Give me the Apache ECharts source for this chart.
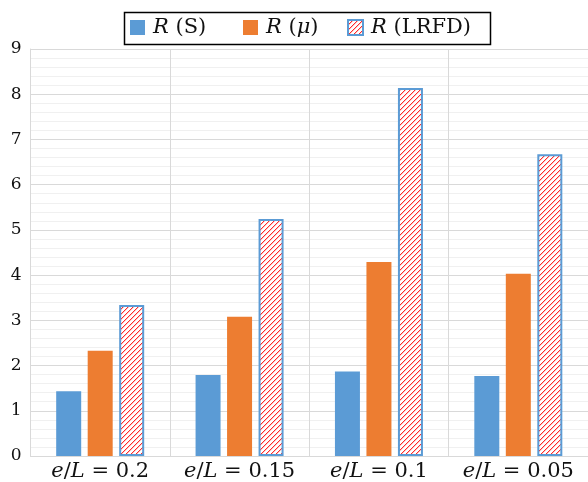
<!DOCTYPE html>
<html><head><meta charset="utf-8">
<script src="https://cdn.jsdelivr.net/npm/echarts@6/dist/echarts.min.js"></script>
<style>html,body{margin:0;padding:0;background:#fff}#c{width:588px;height:482px}</style>
</head><body><div id="c"></div>
<script>
const categories = ['e/L = 0.2', 'e/L = 0.15', 'e/L = 0.1', 'e/L = 0.05'];
const seriesNames = ['R (S)', 'R (μ)', 'R (LRFD)'];
const valuesS = [1.43, 1.79, 1.87, 1.77];
const valuesMu = [2.33, 3.08, 4.29, 4.03];
const valuesLRFD = [3.34, 5.24, 8.14, 6.67];
const yTicks = [0, 1, 2, 3, 4, 5, 6, 7, 8, 9];

const FONT = 'DejaVu Serif';
function makePattern() {
  const n = 5;
  const c = document.createElement('canvas');
  c.width = n; c.height = n;
  const ctx = c.getContext('2d');
  ctx.fillStyle = '#ffffff'; ctx.fillRect(0, 0, n, n);
  for (let i = 0; i < n; i++) {
    ctx.fillStyle = '#ff2a2a'; ctx.fillRect(i, n - 1 - i, 1, 1);
    ctx.fillStyle = '#ffc4c4'; ctx.fillRect(i, (n - i) % n, 1, 1);
  }
  return c;
}
const pattern = { image: makePattern(), repeat: 'repeat' };

function legendFmt(name) {
  const m = name.match(/^R \((.*)\)$/);
  const inner = m[1] === 'μ' ? '{i|μ}' : '{n|' + m[1] + '}';
  return '{s|R} {n|(}' + inner + '{n|)}';
}
function xFmt(label) {
  const v = label.split('= ')[1];
  return '{i|e}{n|/}{i|L}{n| = ' + v + '}';
}
const SZ = 21;
const txt = (extra) => Object.assign({ fontFamily: FONT, fontSize: SZ, color: '#111' }, extra);
const richBase = {
  i: txt({ fontStyle: 'italic' }),
  n: txt({}),
  s: txt({ fontStyle: 'italic', padding: [0, 0, 0, 3] })
};

const legendLefts = [130, 243, 347];
const legends = seriesNames.map((name, k) => ({
  left: legendLefts[k], top: 17,
  padding: 0,
  itemWidth: 15, itemHeight: 15,
  icon: 'rect',
  formatter: legendFmt,
  textStyle: { fontFamily: FONT, fontSize: SZ, color: '#111', rich: richBase },
  data: [name]
}));

const chart = echarts.init(document.getElementById('c'), null, { renderer: 'canvas' });
chart.setOption({
  animation: false,
  backgroundColor: '#fff',
  grid: { left: 30.5, right: 0, top: 49, bottom: 25.5 },
  legend: legends,
  graphic: [{
    type: 'rect', left: 122, top: 10,
    shape: { width: 366, height: 32 },
    style: { fill: 'none', stroke: '#000', lineWidth: 1.5 },
    silent: true
  }],
  xAxis: {
    type: 'category', data: categories,
    axisLine: { show: true, lineStyle: { color: '#d9d9d9', width: 1 } },
    axisTick: { show: false },
    splitLine: { show: true, interval: 0, lineStyle: { color: '#d9d9d9', width: 1 } },
    axisLabel: { interval: 0, formatter: xFmt, margin: 5, fontFamily: FONT, fontSize: SZ, rich: richBase }
  },
  yAxis: {
    type: 'value', min: 0, max: 9, interval: 1,
    axisLine: { show: true, lineStyle: { color: '#d9d9d9' } },
    axisTick: { show: false },
    axisLabel: { margin: 9, fontFamily: FONT, fontSize: 17, color: '#111',
      formatter: (v) => yTicks.includes(v) ? String(v) : '' },
    splitLine: { show: true, lineStyle: { color: '#d9d9d9', width: 1 } },
    minorTick: { show: false, splitNumber: 5 },
    minorSplitLine: { show: true, lineStyle: { color: '#f0f0f0', width: 1 } }
  },
  series: [
    { name: seriesNames[0], type: 'bar', data: valuesS, barWidth: 25, barGap: '26%',
      itemStyle: { color: '#5b9bd5' } },
    { name: seriesNames[1], type: 'bar', data: valuesMu, barWidth: 25, barGap: '26%',
      itemStyle: { color: '#ed7d31' } },
    { name: seriesNames[2], type: 'bar', data: valuesLRFD, barWidth: 25, barGap: '26%',
      itemStyle: { color: pattern, borderColor: '#5b9bd5', borderWidth: 2 } }
  ]
});
</script></body></html>
